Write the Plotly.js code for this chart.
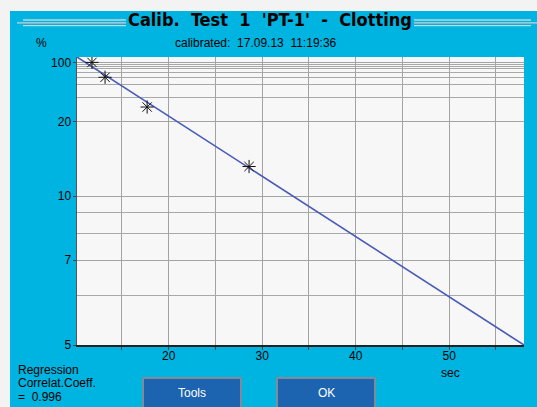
<!DOCTYPE html>
<html>
<head>
<meta charset="utf-8">
<script src="https://cdn.plot.ly/plotly-3.0.1.min.js"></script>
<style>html,body{margin:0;padding:0;background:#f3f3f3;}#chart{width:537px;height:407px;}</style>
</head>
<body>
<div id="chart"></div>
<script>
// ---- data ----
const pointSec = [11.8, 13.2, 17.7, 28.6];
const pointPct = [100, 50, 25, 12.5];
const lineSec = [10.2, 58];
const linePct = [157, 5];
const xTickVals = [20, 30, 40, 50];
const xMinorVals = [15, 25, 35, 45, 55];
const yLabelPct = [100, 20, 10, 7, 5];
const yGridPct = [90, 80, 70, 60, 50, 40, 30, 9, 8, 6];
const xRange = [10.2, 58];
const yRangePct = [5, 157];

const titleText = "Calib.  Test  1  'PT-1'  -  Clotting";
const subtitleText = "calibrated:  17.09.13  11:19:36";
const regressionLines = ["Regression", "Correlat.Coeff.", "=  0.996"];
const buttonLabels = ["Tools", "OK"];

// reciprocal y scale: plotted value = 1/percent
const inv = v => 1 / v;

// pixel -> paper helpers (plot area: x 77..524, y 57..345)
const L = 77, R = 524, T = 57, B = 345;
const PX = px => (px - L) / (R - L);
const PY = py => (B - py) / (B - T);

const font = "Liberation Sans, Arial, sans-serif";

const traces = [
  {
    x: lineSec, y: linePct.map(inv), mode: 'lines', type: 'scatter',
    line: {color: '#4a5cb8', width: 1.6}, hoverinfo: 'skip'
  },
  {
    x: pointSec, y: pointPct.map(inv), mode: 'markers', type: 'scatter',
    marker: {symbol: 'asterisk-open', size: 11, color: '#111', line: {color: '#111', width: 1}}
  }
];

const shapes = [
  {type: 'rect', xref: 'paper', yref: 'paper', x0: PX(-5), x1: PX(545), y0: PY(-5), y1: PY(11), fillcolor: '#f3f3f3', line: {width: 0}, layer: 'below'},
  {type: 'rect', xref: 'paper', yref: 'paper', x0: PX(-5), x1: PX(10), y0: PY(-5), y1: PY(420), fillcolor: '#f3f3f3', line: {width: 0}, layer: 'below'},
  // title rules left
  {type: 'line', xref: 'paper', yref: 'paper', x0: PX(23), x1: PX(126), y0: PY(20), y1: PY(20), line: {color: '#c9d3d8', width: 1.3}},
  {type: 'line', xref: 'paper', yref: 'paper', x0: PX(17), x1: PX(126), y0: PY(22.8), y1: PY(22.8), line: {color: '#c9d3d8', width: 1.3}},
  {type: 'line', xref: 'paper', yref: 'paper', x0: PX(23), x1: PX(126), y0: PY(25.7), y1: PY(25.7), line: {color: '#c9d3d8', width: 1.3}},
  // title rules right
  {type: 'line', xref: 'paper', yref: 'paper', x0: PX(414), x1: PX(531), y0: PY(20), y1: PY(20), line: {color: '#c9d3d8', width: 1.3}},
  {type: 'line', xref: 'paper', yref: 'paper', x0: PX(414), x1: PX(537), y0: PY(22.8), y1: PY(22.8), line: {color: '#c9d3d8', width: 1.3}},
  {type: 'line', xref: 'paper', yref: 'paper', x0: PX(414), x1: PX(531), y0: PY(25.7), y1: PY(25.7), line: {color: '#c9d3d8', width: 1.3}},
  // buttons
  {type: 'rect', xref: 'paper', yref: 'paper', x0: PX(143), x1: PX(241), y0: PY(378), y1: PY(409), fillcolor: '#1c63b0', line: {color: '#7d8c99', width: 2}},
  {type: 'rect', xref: 'paper', yref: 'paper', x0: PX(277), x1: PX(375), y0: PY(378), y1: PY(409), fillcolor: '#1c63b0', line: {color: '#7d8c99', width: 2}}
];

const ann = (text, px, py, opts) => Object.assign({
  text: text, xref: 'paper', yref: 'paper', x: PX(px), y: PY(py), showarrow: false,
  xanchor: 'center', yanchor: 'middle', font: {family: font, size: 12, color: '#000'}
}, opts || {});

const annotations = [
  ann(titleText, 270, 20, {font: {family: "DejaVu Sans Condensed, Liberation Sans Narrow, DejaVu Sans, sans-serif", size: 18, color: '#000', weight: 'bold'}}),
  ann(subtitleText, 256, 43),
  ann('%', 41, 43),
  ann('sec', 450, 373),
  ann(regressionLines[0], 16, 370, {xanchor: 'left'}),
  ann(regressionLines[1], 16, 383, {xanchor: 'left'}),
  ann(regressionLines[2], 16, 397, {xanchor: 'left'}),
  ann(buttonLabels[0], 192, 393, {font: {family: font, size: 12, color: '#fff'}}),
  ann(buttonLabels[1], 326, 393, {font: {family: font, size: 12, color: '#fff'}})
];

const layout = {
  width: 537, height: 407,
  margin: {l: L, r: 537 - R, t: T, b: 407 - B, pad: 0},
  paper_bgcolor: '#00b4e1',
  plot_bgcolor: '#f7f7f7',
  showlegend: false,
  font: {family: font, size: 12, color: '#000'},
  xaxis: {
    range: xRange, tickmode: 'array', tickvals: xTickVals, ticktext: xTickVals.map(String),
    showgrid: true, gridcolor: '#a3a3a3', gridwidth: 1,
    ticks: 'outside', ticklen: 3, tickcolor: '#444', ticklabelstandoff: -4,
    showline: true, linecolor: '#222', linewidth: 1.5,
    zeroline: false, tickfont: {family: font, size: 12, color: '#000'},
    minor: {tickmode: 'array', tickvals: xMinorVals, showgrid: true, gridcolor: '#a3a3a3', gridwidth: 1, ticks: 'outside', ticklen: 3, tickcolor: '#444'}
  },
  yaxis: {
    range: [inv(yRangePct[0]), inv(yRangePct[1])],
    tickmode: 'array', tickvals: yLabelPct.map(inv), ticktext: yLabelPct.map(String),
    showgrid: true, gridcolor: '#a3a3a3', gridwidth: 1,
    ticks: 'outside', ticklen: 3, tickcolor: '#444', ticklabelstandoff: -1,
    showline: true, linecolor: '#555', linewidth: 1.5,
    zeroline: false, tickfont: {family: font, size: 12, color: '#000'},
    minor: {tickmode: 'array', tickvals: yGridPct.map(inv), showgrid: true, gridcolor: '#a8a8a8', gridwidth: 1, ticks: ''}
  },
  shapes: shapes,
  annotations: annotations
};

Plotly.newPlot('chart', traces, layout, {displayModeBar: false, staticPlot: true});
</script>
</body>
</html>
